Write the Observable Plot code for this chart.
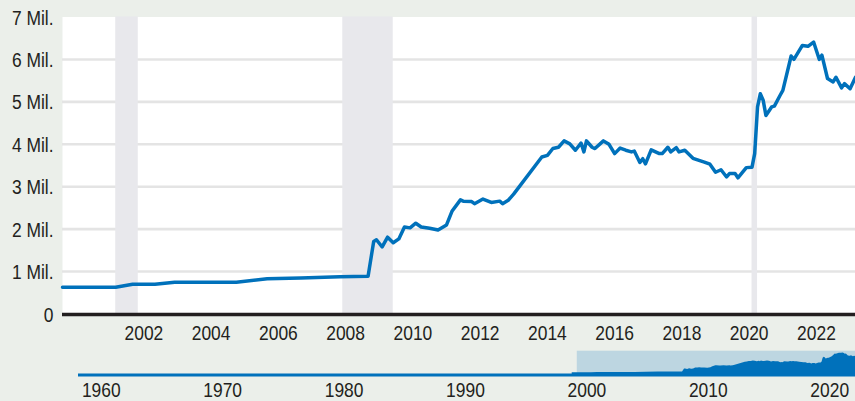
<!DOCTYPE html>
<html><head><meta charset="utf-8">
<script src="https://cdn.jsdelivr.net/npm/d3@7"></script>
<script src="https://cdn.jsdelivr.net/npm/@observablehq/plot@0.6"></script>
<style>
html,body{margin:0;padding:0;background:#ebefea;}
#chart{width:855px;height:401px;background:#ebefea;overflow:hidden;}
#chart svg{display:block;}
</style></head><body><div id="chart"></div>
<script>
// Series: total assets (in millions of millions, i.e. "Mil.")
const dates = ["1999-08","2001-03","2001-09","2002-05","2002-12","2004-10","2005-09","2006-09","2007-11","2008-09",
"2008-11","2008-12","2009-02","2009-04","2009-06","2009-08","2009-10","2009-12","2010-02","2010-04",
"2010-07","2010-10","2011-01","2011-03","2011-06","2011-07","2011-10","2011-11","2012-02","2012-05",
"2012-08","2012-09","2012-11","2013-01","2013-11","2014-01","2014-03","2014-05","2014-07","2014-09",
"2014-11","2015-01","2015-02","2015-03","2015-05","2015-06","2015-09","2015-11","2016-01","2016-03",
"2016-05","2016-07","2016-08","2016-10","2016-11","2016-12","2017-02","2017-05","2017-06","2017-08",
"2017-09","2017-11","2017-12","2018-02","2018-05","2018-09","2018-11","2019-01","2019-03","2019-05",
"2019-06","2019-08","2019-09","2019-12","2020-02","2020-03","2020-04","2020-05","2020-06","2020-07",
"2020-09","2020-10","2020-12","2021-01","2021-04","2021-05","2021-08","2021-10","2021-12","2022-02",
"2022-03","2022-05","2022-07","2022-08","2022-10","2022-11","2023-01","2023-03"];
const values = [0.63,0.63,0.70,0.70,0.75,0.75,0.83,0.85,0.88,0.89,
1.71,1.75,1.58,1.81,1.68,1.77,2.05,2.03,2.14,2.05,
2.02,1.98,2.10,2.42,2.69,2.66,2.65,2.60,2.71,2.63,
2.66,2.60,2.68,2.83,3.70,3.74,3.90,3.93,4.08,4.01,
3.86,4.03,3.82,4.08,3.93,3.90,4.08,4.00,3.78,3.91,
3.86,3.82,3.84,3.57,3.66,3.54,3.87,3.78,3.78,3.93,
3.82,3.92,3.82,3.86,3.67,3.58,3.53,3.34,3.40,3.23,
3.31,3.31,3.21,3.45,3.46,3.78,4.88,5.19,5.04,4.68,
4.88,4.90,5.15,5.27,6.08,6.00,6.33,6.31,6.41,6.00,
6.10,5.55,5.47,5.58,5.33,5.43,5.31,5.58];

const yTicks = [0,1,2,3,4,5,6,7];
const yTickLabels = ["0","1 Mil.","2 Mil.","3 Mil.","4 Mil.","5 Mil.","6 Mil.","7 Mil."];
const xTickYears = ["2002","2004","2006","2008","2010","2012","2014","2016","2018","2020","2022"];
const recessionStart = ["2001-03","2007-12","2020-02"];
const recessionEnd   = ["2001-11","2009-06","2020-04"];
const navTickYears = ["1960","1970","1980","1990","2000","2010","2020"];
const navRange = ["1958-12","2022-12"];
const navSelection = ["2000-01","2023-03"];

const parse = d3.utcParse("%Y-%m");
const parseY = d3.utcParse("%Y");
const data = dates.map((d,i) => ({date: parse(d), value: values[i]}));
const rec = recessionStart.map((s,i) => ({start: parse(s), end: parse(recessionEnd[i])}));
const xDomain = [data[0].date, data[data.length-1].date];
const font = '"Liberation Sans Narrow","Liberation Sans",Arial,sans-serif';
const blue = "#0071bb";
const ink = "#231f20";

const main = Plot.plot({
  width: 855, height: 344,
  marginLeft: 62, marginRight: 0, marginTop: 16.5, marginBottom: 30.5,
  style: {background: "transparent", fontFamily: font, fontSize: "20.5px", color: ink},
  x: {type: "utc", domain: xDomain},
  y: {domain: [0, 7]},
  marks: [
    Plot.frame({fill: "white", stroke: "none"}),
    Plot.gridY(yTicks.filter(t => t > 0 && t < 7), {stroke: "#e4e4e4", strokeWidth: 2.6, strokeOpacity: 1}),
    Plot.rect(rec, {x1: "start", x2: "end", fill: "#e8e8ec"}),
    Plot.lineY(data, {x: "date", y: "value", stroke: blue, strokeWidth: 3.5, strokeLinejoin: "round"}),
    Plot.ruleY([0], {stroke: ink, strokeWidth: 3.5, dy: 0.5}),
    Plot.axisX(xTickYears.map(parseY), {tickSize: 0, tickPadding: 11, tickFormat: "%Y", label: null, fill: ink}),
    Plot.axisY(yTicks, {tickSize: 0, tickPadding: 9, dy: 1, tickFormat: (d) => yTickLabels[yTicks.indexOf(d)], label: null, fill: ink})
  ]
});

const nav = Plot.plot({
  width: 855, height: 57,
  marginLeft: 78, marginRight: 0, marginTop: 6.4, marginBottom: 26.5,
  style: {background: "transparent", fontFamily: font, fontSize: "20.5px", color: ink},
  x: {type: "utc", domain: navRange.map(parse)},
  y: {domain: [0, 7]},
  marks: [
    Plot.rect([{a: parse(navSelection[0]), b: parse(navSelection[1])}], {x1: "a", x2: "b", fill: "#bdd6e1", clip: true}),
    Plot.areaY(data, {x: "date", y: "value", fill: blue, clip: true}),
    Plot.ruleY([0], {stroke: blue, strokeWidth: 2.8}),
    Plot.axisX(navTickYears.map(parseY), {tickSize: 0, tickPadding: 7, tickFormat: "%Y", label: null, dx: 9.6, fill: ink}),
    Plot.axisY({ticks: [], label: null, tickSize: 0})
  ]
});

// narrow the lettering horizontally around each label's anchor point
function condense(svg, k) {
  svg.querySelectorAll("text").forEach(t => {
    let tr = t.getAttribute("transform");
    if (!tr) {
      const x = +(t.getAttribute("x") || 0), y = +(t.getAttribute("y") || 0);
      t.removeAttribute("x"); t.removeAttribute("y");
      tr = `translate(${x},${y})`;
    }
    t.setAttribute("transform", tr + ` scale(${k},1)`);
  });
}
condense(main, 0.85);
condense(nav, 0.85);

const root = document.getElementById("chart");
root.appendChild(main);
root.appendChild(nav);
</script>
</body></html>
